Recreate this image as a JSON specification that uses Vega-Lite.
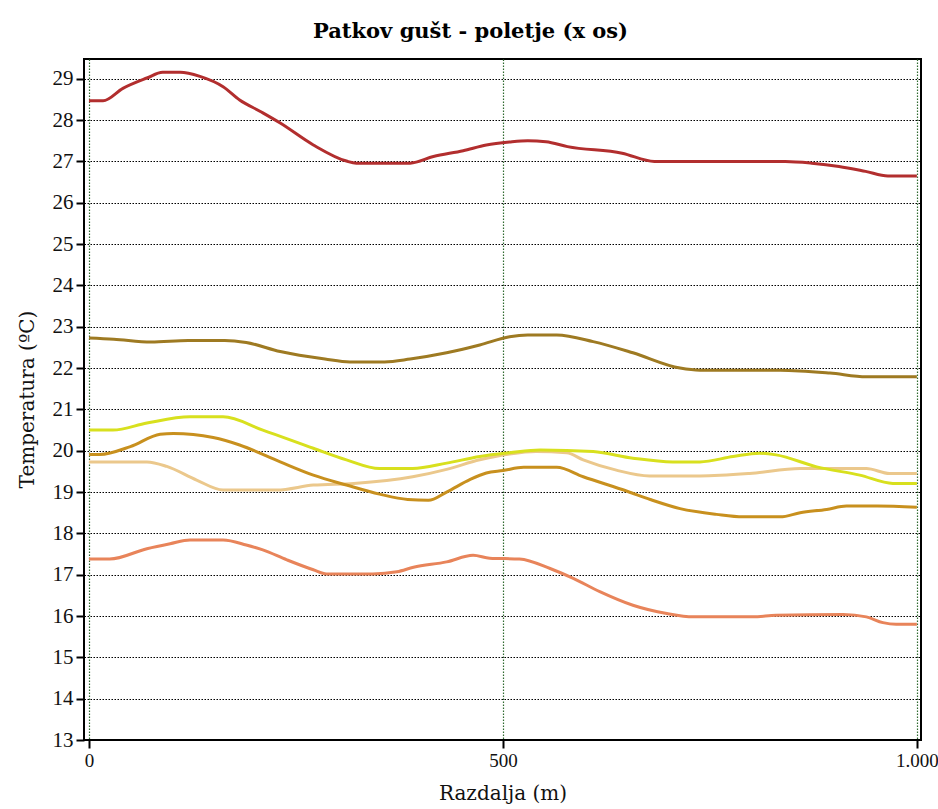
{
  "$schema": "https://vega.github.io/schema/vega-lite/v6.json",
  "width": 837,
  "height": 681,
  "autosize": {"type": "none"},
  "padding": {"left": 84, "top": 59, "right": 17, "bottom": 69},
  "background": "white",
  "title": {
    "text": "Patkov gušt - poletje (x os)",
    "font": "DejaVu Serif",
    "fontSize": 21,
    "fontWeight": "bold",
    "color": "black",
    "anchor": "middle",
    "dx": -32,
    "offset": 17
  },
  "config": {
    "view": {"stroke": "black", "strokeWidth": 2},
    "axis": {
      "labelFont": "Liberation Serif",
      "labelFontSize": 21,
      "labelColor": "#111",
      "titleFont": "DejaVu Serif",
      "titleFontSize": 20,
      "titleFontWeight": "normal",
      "titleColor": "#111",
      "tickColor": "black",
      "tickWidth": 2,
      "tickSize": 8,
      "domain": false
    }
  },
  "data": {
    "values": [
      {"s": "s5", "x": 0, "t": 19.73}, {"s": "s5", "x": 70, "t": 19.73}, {"s": "s5", "x": 94, "t": 19.62}, {"s": "s5", "x": 130, "t": 19.29}, {"s": "s5", "x": 162, "t": 19.05}, {"s": "s5", "x": 227, "t": 19.05}, {"s": "s5", "x": 271, "t": 19.17}, {"s": "s5", "x": 320, "t": 19.21}, {"s": "s5", "x": 391, "t": 19.37}, {"s": "s5", "x": 432, "t": 19.55}, {"s": "s5", "x": 472, "t": 19.78}, {"s": "s5", "x": 508, "t": 19.92}, {"s": "s5", "x": 540, "t": 19.98}, {"s": "s5", "x": 577, "t": 19.95}, {"s": "s5", "x": 597, "t": 19.78}, {"s": "s5", "x": 637, "t": 19.53}, {"s": "s5", "x": 677, "t": 19.39}, {"s": "s5", "x": 738, "t": 19.39}, {"s": "s5", "x": 798, "t": 19.45}, {"s": "s5", "x": 859, "t": 19.57}, {"s": "s5", "x": 939, "t": 19.57}, {"s": "s5", "x": 967, "t": 19.45}, {"s": "s5", "x": 1000, "t": 19.45},
      {"s": "s6", "x": 0, "t": 17.38}, {"s": "s6", "x": 25, "t": 17.38}, {"s": "s6", "x": 70, "t": 17.63}, {"s": "s6", "x": 98, "t": 17.75}, {"s": "s6", "x": 122, "t": 17.84}, {"s": "s6", "x": 162, "t": 17.84}, {"s": "s6", "x": 190, "t": 17.72}, {"s": "s6", "x": 210, "t": 17.6}, {"s": "s6", "x": 239, "t": 17.36}, {"s": "s6", "x": 271, "t": 17.12}, {"s": "s6", "x": 287, "t": 17.02}, {"s": "s6", "x": 343, "t": 17.02}, {"s": "s6", "x": 372, "t": 17.07}, {"s": "s6", "x": 392, "t": 17.18}, {"s": "s6", "x": 432, "t": 17.31}, {"s": "s6", "x": 464, "t": 17.47}, {"s": "s6", "x": 484, "t": 17.4}, {"s": "s6", "x": 520, "t": 17.38}, {"s": "s6", "x": 557, "t": 17.15}, {"s": "s6", "x": 585, "t": 16.91}, {"s": "s6", "x": 617, "t": 16.59}, {"s": "s6", "x": 657, "t": 16.26}, {"s": "s6", "x": 698, "t": 16.06}, {"s": "s6", "x": 730, "t": 15.98}, {"s": "s6", "x": 802, "t": 15.98}, {"s": "s6", "x": 830, "t": 16.02}, {"s": "s6", "x": 911, "t": 16.04}, {"s": "s6", "x": 939, "t": 15.98}, {"s": "s6", "x": 959, "t": 15.84}, {"s": "s6", "x": 975, "t": 15.8}, {"s": "s6", "x": 1000, "t": 15.8},
      {"s": "s1", "x": 0, "t": 28.47}, {"s": "s1", "x": 17, "t": 28.47}, {"s": "s1", "x": 41, "t": 28.77}, {"s": "s1", "x": 70, "t": 29.02}, {"s": "s1", "x": 89, "t": 29.16}, {"s": "s1", "x": 110, "t": 29.16}, {"s": "s1", "x": 134, "t": 29.06}, {"s": "s1", "x": 162, "t": 28.81}, {"s": "s1", "x": 182, "t": 28.49}, {"s": "s1", "x": 207, "t": 28.21}, {"s": "s1", "x": 231, "t": 27.93}, {"s": "s1", "x": 271, "t": 27.4}, {"s": "s1", "x": 311, "t": 27.01}, {"s": "s1", "x": 323, "t": 26.96}, {"s": "s1", "x": 388, "t": 26.96}, {"s": "s1", "x": 416, "t": 27.12}, {"s": "s1", "x": 452, "t": 27.26}, {"s": "s1", "x": 480, "t": 27.4}, {"s": "s1", "x": 508, "t": 27.47}, {"s": "s1", "x": 530, "t": 27.5}, {"s": "s1", "x": 552, "t": 27.48}, {"s": "s1", "x": 578, "t": 27.36}, {"s": "s1", "x": 644, "t": 27.2}, {"s": "s1", "x": 683, "t": 27.0}, {"s": "s1", "x": 841, "t": 27.0}, {"s": "s1", "x": 873, "t": 26.96}, {"s": "s1", "x": 906, "t": 26.88}, {"s": "s1", "x": 938, "t": 26.76}, {"s": "s1", "x": 965, "t": 26.65}, {"s": "s1", "x": 1000, "t": 26.65},
      {"s": "s2", "x": 0, "t": 22.73}, {"s": "s2", "x": 30, "t": 22.7}, {"s": "s2", "x": 75, "t": 22.63}, {"s": "s2", "x": 120, "t": 22.67}, {"s": "s2", "x": 164, "t": 22.67}, {"s": "s2", "x": 190, "t": 22.62}, {"s": "s2", "x": 231, "t": 22.4}, {"s": "s2", "x": 285, "t": 22.22}, {"s": "s2", "x": 315, "t": 22.15}, {"s": "s2", "x": 357, "t": 22.15}, {"s": "s2", "x": 388, "t": 22.22}, {"s": "s2", "x": 432, "t": 22.37}, {"s": "s2", "x": 472, "t": 22.56}, {"s": "s2", "x": 508, "t": 22.76}, {"s": "s2", "x": 530, "t": 22.8}, {"s": "s2", "x": 565, "t": 22.8}, {"s": "s2", "x": 609, "t": 22.64}, {"s": "s2", "x": 657, "t": 22.37}, {"s": "s2", "x": 714, "t": 22.0}, {"s": "s2", "x": 738, "t": 21.95}, {"s": "s2", "x": 835, "t": 21.95}, {"s": "s2", "x": 895, "t": 21.88}, {"s": "s2", "x": 939, "t": 21.79}, {"s": "s2", "x": 1000, "t": 21.79},
      {"s": "s4", "x": 0, "t": 19.91}, {"s": "s4", "x": 13, "t": 19.91}, {"s": "s4", "x": 50, "t": 20.1}, {"s": "s4", "x": 86, "t": 20.4}, {"s": "s4", "x": 102, "t": 20.42}, {"s": "s4", "x": 150, "t": 20.32}, {"s": "s4", "x": 182, "t": 20.14}, {"s": "s4", "x": 231, "t": 19.73}, {"s": "s4", "x": 271, "t": 19.41}, {"s": "s4", "x": 311, "t": 19.17}, {"s": "s4", "x": 351, "t": 18.95}, {"s": "s4", "x": 385, "t": 18.82}, {"s": "s4", "x": 410, "t": 18.8}, {"s": "s4", "x": 432, "t": 19.0}, {"s": "s4", "x": 460, "t": 19.3}, {"s": "s4", "x": 480, "t": 19.46}, {"s": "s4", "x": 500, "t": 19.52}, {"s": "s4", "x": 525, "t": 19.6}, {"s": "s4", "x": 565, "t": 19.6}, {"s": "s4", "x": 597, "t": 19.37}, {"s": "s4", "x": 650, "t": 19.02}, {"s": "s4", "x": 678, "t": 18.82}, {"s": "s4", "x": 714, "t": 18.6}, {"s": "s4", "x": 758, "t": 18.46}, {"s": "s4", "x": 790, "t": 18.4}, {"s": "s4", "x": 835, "t": 18.4}, {"s": "s4", "x": 859, "t": 18.5}, {"s": "s4", "x": 891, "t": 18.58}, {"s": "s4", "x": 915, "t": 18.66}, {"s": "s4", "x": 952, "t": 18.66}, {"s": "s4", "x": 1000, "t": 18.63},
      {"s": "s3", "x": 0, "t": 20.5}, {"s": "s3", "x": 29, "t": 20.5}, {"s": "s3", "x": 70, "t": 20.67}, {"s": "s3", "x": 122, "t": 20.82}, {"s": "s3", "x": 162, "t": 20.82}, {"s": "s3", "x": 210, "t": 20.5}, {"s": "s3", "x": 271, "t": 20.06}, {"s": "s3", "x": 311, "t": 19.78}, {"s": "s3", "x": 351, "t": 19.57}, {"s": "s3", "x": 391, "t": 19.57}, {"s": "s3", "x": 432, "t": 19.7}, {"s": "s3", "x": 472, "t": 19.86}, {"s": "s3", "x": 508, "t": 19.95}, {"s": "s3", "x": 545, "t": 20.02}, {"s": "s3", "x": 609, "t": 19.98}, {"s": "s3", "x": 657, "t": 19.82}, {"s": "s3", "x": 705, "t": 19.73}, {"s": "s3", "x": 738, "t": 19.73}, {"s": "s3", "x": 778, "t": 19.86}, {"s": "s3", "x": 810, "t": 19.94}, {"s": "s3", "x": 830, "t": 19.9}, {"s": "s3", "x": 879, "t": 19.61}, {"s": "s3", "x": 931, "t": 19.41}, {"s": "s3", "x": 971, "t": 19.21}, {"s": "s3", "x": 1000, "t": 19.21}
    ]
  },
  "mark": {"type": "line", "interpolate": "monotone", "strokeWidth": 3, "clip": true},
  "encoding": {
    "x": {
      "field": "x",
      "type": "quantitative",
      "scale": {"domain": [-6, 1005], "nice": false, "zero": false},
      "axis": {
        "values": [0, 500, 1000],
        "labelExpr": "datum.value == 1000 ? '1.000' : datum.label",
        "labelFontSize": 19,
        "labelFlush": false,
        "grid": true,
        "gridColor": "#2f6a2f",
        "gridDash": [1.5, 1.5],
        "gridWidth": 1.2,
        "gridOpacity": 1,
        "labelPadding": 3,
        "title": "Razdalja (m)",
        "titleY": 53,
        "titleBaseline": "middle"
      }
    },
    "y": {
      "field": "t",
      "type": "quantitative",
      "scale": {"domain": [13, 29.48], "nice": false, "zero": false},
      "axis": {
        "values": [13, 14, 15, 16, 17, 18, 19, 20, 21, 22, 23, 24, 25, 26, 27, 28, 29],
        "grid": true,
        "gridColor": "black",
        "gridDash": [1.5, 1.5],
        "gridWidth": 1.2,
        "gridOpacity": 1,
        "labelPadding": 3,
        "title": "Temperatura (ºC)",
        "titleX": -57,
        "titleY": 340,
        "titleAngle": -90,
        "titleAlign": "center",
        "titleBaseline": "middle"
      }
    },
    "color": {
      "field": "s",
      "type": "nominal",
      "scale": {
        "domain": ["s5", "s6", "s1", "s2", "s4", "s3"],
        "range": ["#EBC88C", "#E8845A", "#B22E2E", "#9E7A22", "#C8901E", "#D8E01E"]
      },
      "legend": null
    }
  }
}
